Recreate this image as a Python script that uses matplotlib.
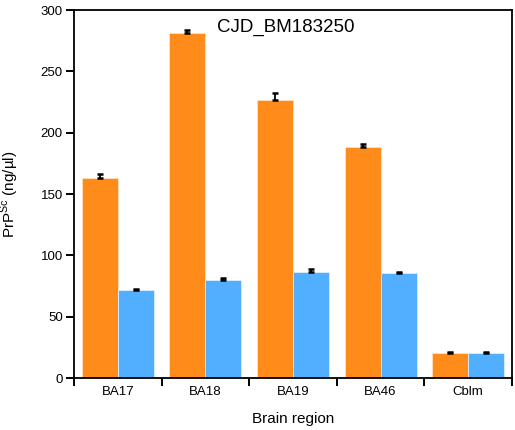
"""
Bar chart of PrPSc concentration per brain region (CJD_BM183250).
"""

import matplotlib

matplotlib.use("Agg")
import matplotlib.pyplot as plt
import numpy as np

regions = ["BA17", "BA18", "BA19", "BA46", "Cblm"]
orange_values = [163, 281, 227, 188, 20.5]
orange_errors = [3.5, 3, 5, 2.5, 0.5]
blue_values = [72, 80, 86.5, 85.5, 20.5]
blue_errors = [0.5, 1.5, 2.5, 0.8, 1.0]

ORANGE = "#FF8C1A"
BLUE = "#52AEFF"


def main() -> None:
    plt.rcParams["font.family"] = ["Liberation Sans", "DejaVu Sans"]
    plt.rcParams["mathtext.fontset"] = "custom"
    plt.rcParams["mathtext.rm"] = "Liberation Sans"

    fig = plt.figure(figsize=(5.15, 4.30), dpi=100)
    ax = fig.add_axes([0.1437, 0.1209, 0.8505, 0.8558])

    x = np.arange(len(regions))
    width = 0.41
    zeros = np.zeros(len(regions))

    ax.bar(x + 0.5 - width / 2, orange_values, width, color=ORANGE,
           edgecolor="#FFE0C0", linewidth=0.6, zorder=2)
    ax.bar(x + 0.5 + width / 2, blue_values, width, color=BLUE,
           edgecolor="#D8EEFF", linewidth=0.6, zorder=2)
    ax.errorbar(x + 0.5 - width / 2, orange_values,
                yerr=[zeros, orange_errors], fmt="none", ecolor="black",
                elinewidth=1.3, capsize=2.5, capthick=1.8, zorder=3)
    ax.errorbar(x + 0.5 + width / 2, blue_values,
                yerr=[zeros, blue_errors], fmt="none", ecolor="black",
                elinewidth=1.3, capsize=2.5, capthick=1.8, zorder=3)

    ax.set_xlim(0, len(regions))
    ax.set_ylim(0, 300)
    ax.set_yticks(np.arange(0, 301, 50))
    ax.set_xticks(np.arange(len(regions) + 1))
    ax.set_xticklabels([])
    ax.set_xticks(x + 0.5, minor=True)
    ax.set_xticklabels(regions, minor=True)
    ax.tick_params(axis="x", which="minor", length=0, labelsize=9.5, pad=6)
    ax.tick_params(axis="x", which="major", length=6, width=1.4,
                   direction="out")
    ax.tick_params(axis="y", length=6, width=1.4, direction="out",
                   labelsize=9.5, pad=2)

    for spine in ax.spines.values():
        spine.set_linewidth(1.3)

    ax.set_xlabel("Brain region", fontsize=11, labelpad=10)
    ax.set_ylabel(r"PrP$^{\mathregular{Sc}}$ (ng/µl)", fontsize=11,
                  labelpad=14)
    ax.text(0.484, 0.952, "CJD_BM183250", transform=ax.transAxes,
            fontsize=13.5, ha="center", va="center")

    fig.savefig("out.png", dpi=100)


if __name__ == "__main__":
    main()
